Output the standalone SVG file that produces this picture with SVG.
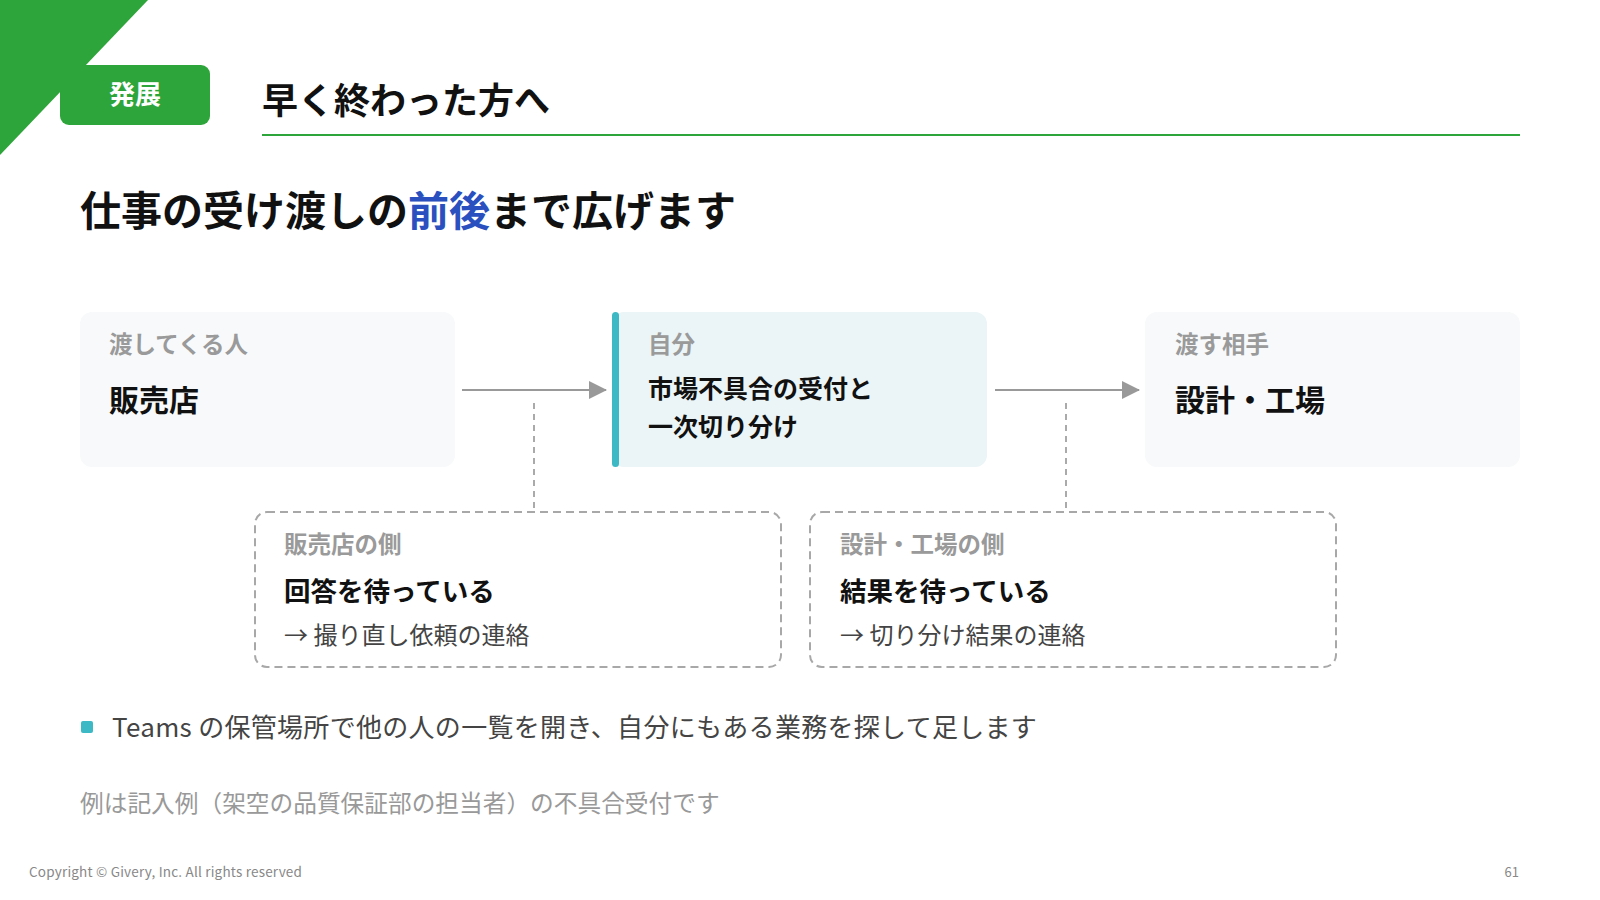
<svg xmlns="http://www.w3.org/2000/svg" width="1600" height="900" viewBox="0 0 1600 900">
<style>
text{font-family:"Noto Sans CJK JP","Noto Sans",sans-serif}
.lbl{font-size:23.5px;font-weight:700;fill:#9a9a9a}
.main{font-size:30px;font-weight:700;fill:#111}
.mid{font-size:25px;font-weight:700;fill:#111}
.mid2{font-size:26.5px;font-weight:700;fill:#111}
.sub{font-size:24px;font-weight:400;fill:#444}
.card{fill:#f7f9fa}
.dbox{fill:#fff;stroke:#a8a8a8;stroke-width:2;stroke-dasharray:8 5}
.conn{stroke:#999;stroke-width:2;fill:none}
.dash{stroke:#aaa;stroke-width:2;stroke-dasharray:6 5;fill:none}
</style>
<defs>
<marker id="arr" markerWidth="18" markerHeight="18" refX="17" refY="9" orient="auto" markerUnits="userSpaceOnUse" viewBox="0 0 18 18">
<path d="M0,0 L18,9 L0,18 z" fill="#999"/>
</marker>
</defs>
<rect width="1600" height="900" fill="#fff"/>
<g id="header">
<polygon points="0,0 148,0 0,155" fill="#2ea53a"/>
<rect x="60" y="65" width="150" height="60" rx="9" fill="#2ea53a"/>
<text x="135" y="104" text-anchor="middle" font-size="26" font-weight="700" fill="#fff">発展</text>
<text x="262" y="114" font-size="36" font-weight="700" fill="#111">早く終わった方へ</text>
<line x1="262" y1="135" x2="1520" y2="135" stroke="#2ea53a" stroke-width="2"/>
<text x="80" y="226" font-size="41" font-weight="700" fill="#111">仕事の受け渡しの<tspan fill="#2a4fbf">前後</tspan>まで広げます</text>
</g>
<g id="connectors">
<line class="conn" x1="462" y1="390" x2="606" y2="390" marker-end="url(#arr)"/>
<line class="conn" x1="995" y1="390" x2="1139" y2="390" marker-end="url(#arr)"/>
<line class="dash" x1="534" y1="403" x2="534" y2="512"/>
<line class="dash" x1="1066" y1="403" x2="1066" y2="512"/>
</g>
<g id="node-giver">
<rect class="card" x="80" y="312" width="375" height="155" rx="12"/>
<text class="lbl" x="109" y="353">渡してくる人</text>
<text class="main" x="109" y="411">販売店</text>
</g>
<g id="node-self">
<rect x="612" y="312" width="375" height="155" rx="12" fill="#ebf4f6"/>
<rect x="612" y="312" width="7" height="155" rx="3.5" fill="#3cb9c4"/>
<text class="lbl" x="648" y="353">自分</text>
<text class="mid" x="648" y="398">市場不具合の受付と</text>
<text class="mid" x="648" y="436">一次切り分け</text>
</g>
<g id="node-receiver">
<rect class="card" x="1145" y="312" width="375" height="155" rx="12"/>
<text class="lbl" x="1175" y="353">渡す相手</text>
<text class="main" x="1175" y="411">設計・工場</text>
</g>
<g id="node-giver-side">
<rect class="dbox" x="255" y="512" width="526" height="155" rx="12"/>
<text class="lbl" x="284" y="553">販売店の側</text>
<text class="mid2" x="284" y="601">回答を待っている</text>
<text class="sub" x="284" y="644">→ 撮り直し依頼の連絡</text>
</g>
<g id="node-receiver-side">
<rect class="dbox" x="810" y="512" width="526" height="155" rx="12"/>
<text class="lbl" x="840" y="553">設計・工場の側</text>
<text class="mid2" x="840" y="601">結果を待っている</text>
<text class="sub" x="840" y="644">→ 切り分け結果の連絡</text>
</g>
<g id="notes">
<rect x="81" y="721" width="12" height="12" rx="2" fill="#3cb9c4"/>
<text x="112" y="737" font-size="26" letter-spacing="0.3" fill="#444">Teams の保管場所で他の人の一覧を開き、自分にもある業務を探して足します</text>
<text x="80" y="812" font-size="23.7" fill="#999">例は記入例（架空の品質保証部の担当者）の不具合受付です</text>
<text x="29" y="877" font-size="13.5" letter-spacing="0.2" fill="#888">Copyright © Givery, Inc. All rights reserved</text>
<text x="1519" y="877" font-size="13" fill="#888" text-anchor="end">61</text>
</g>
</svg>
